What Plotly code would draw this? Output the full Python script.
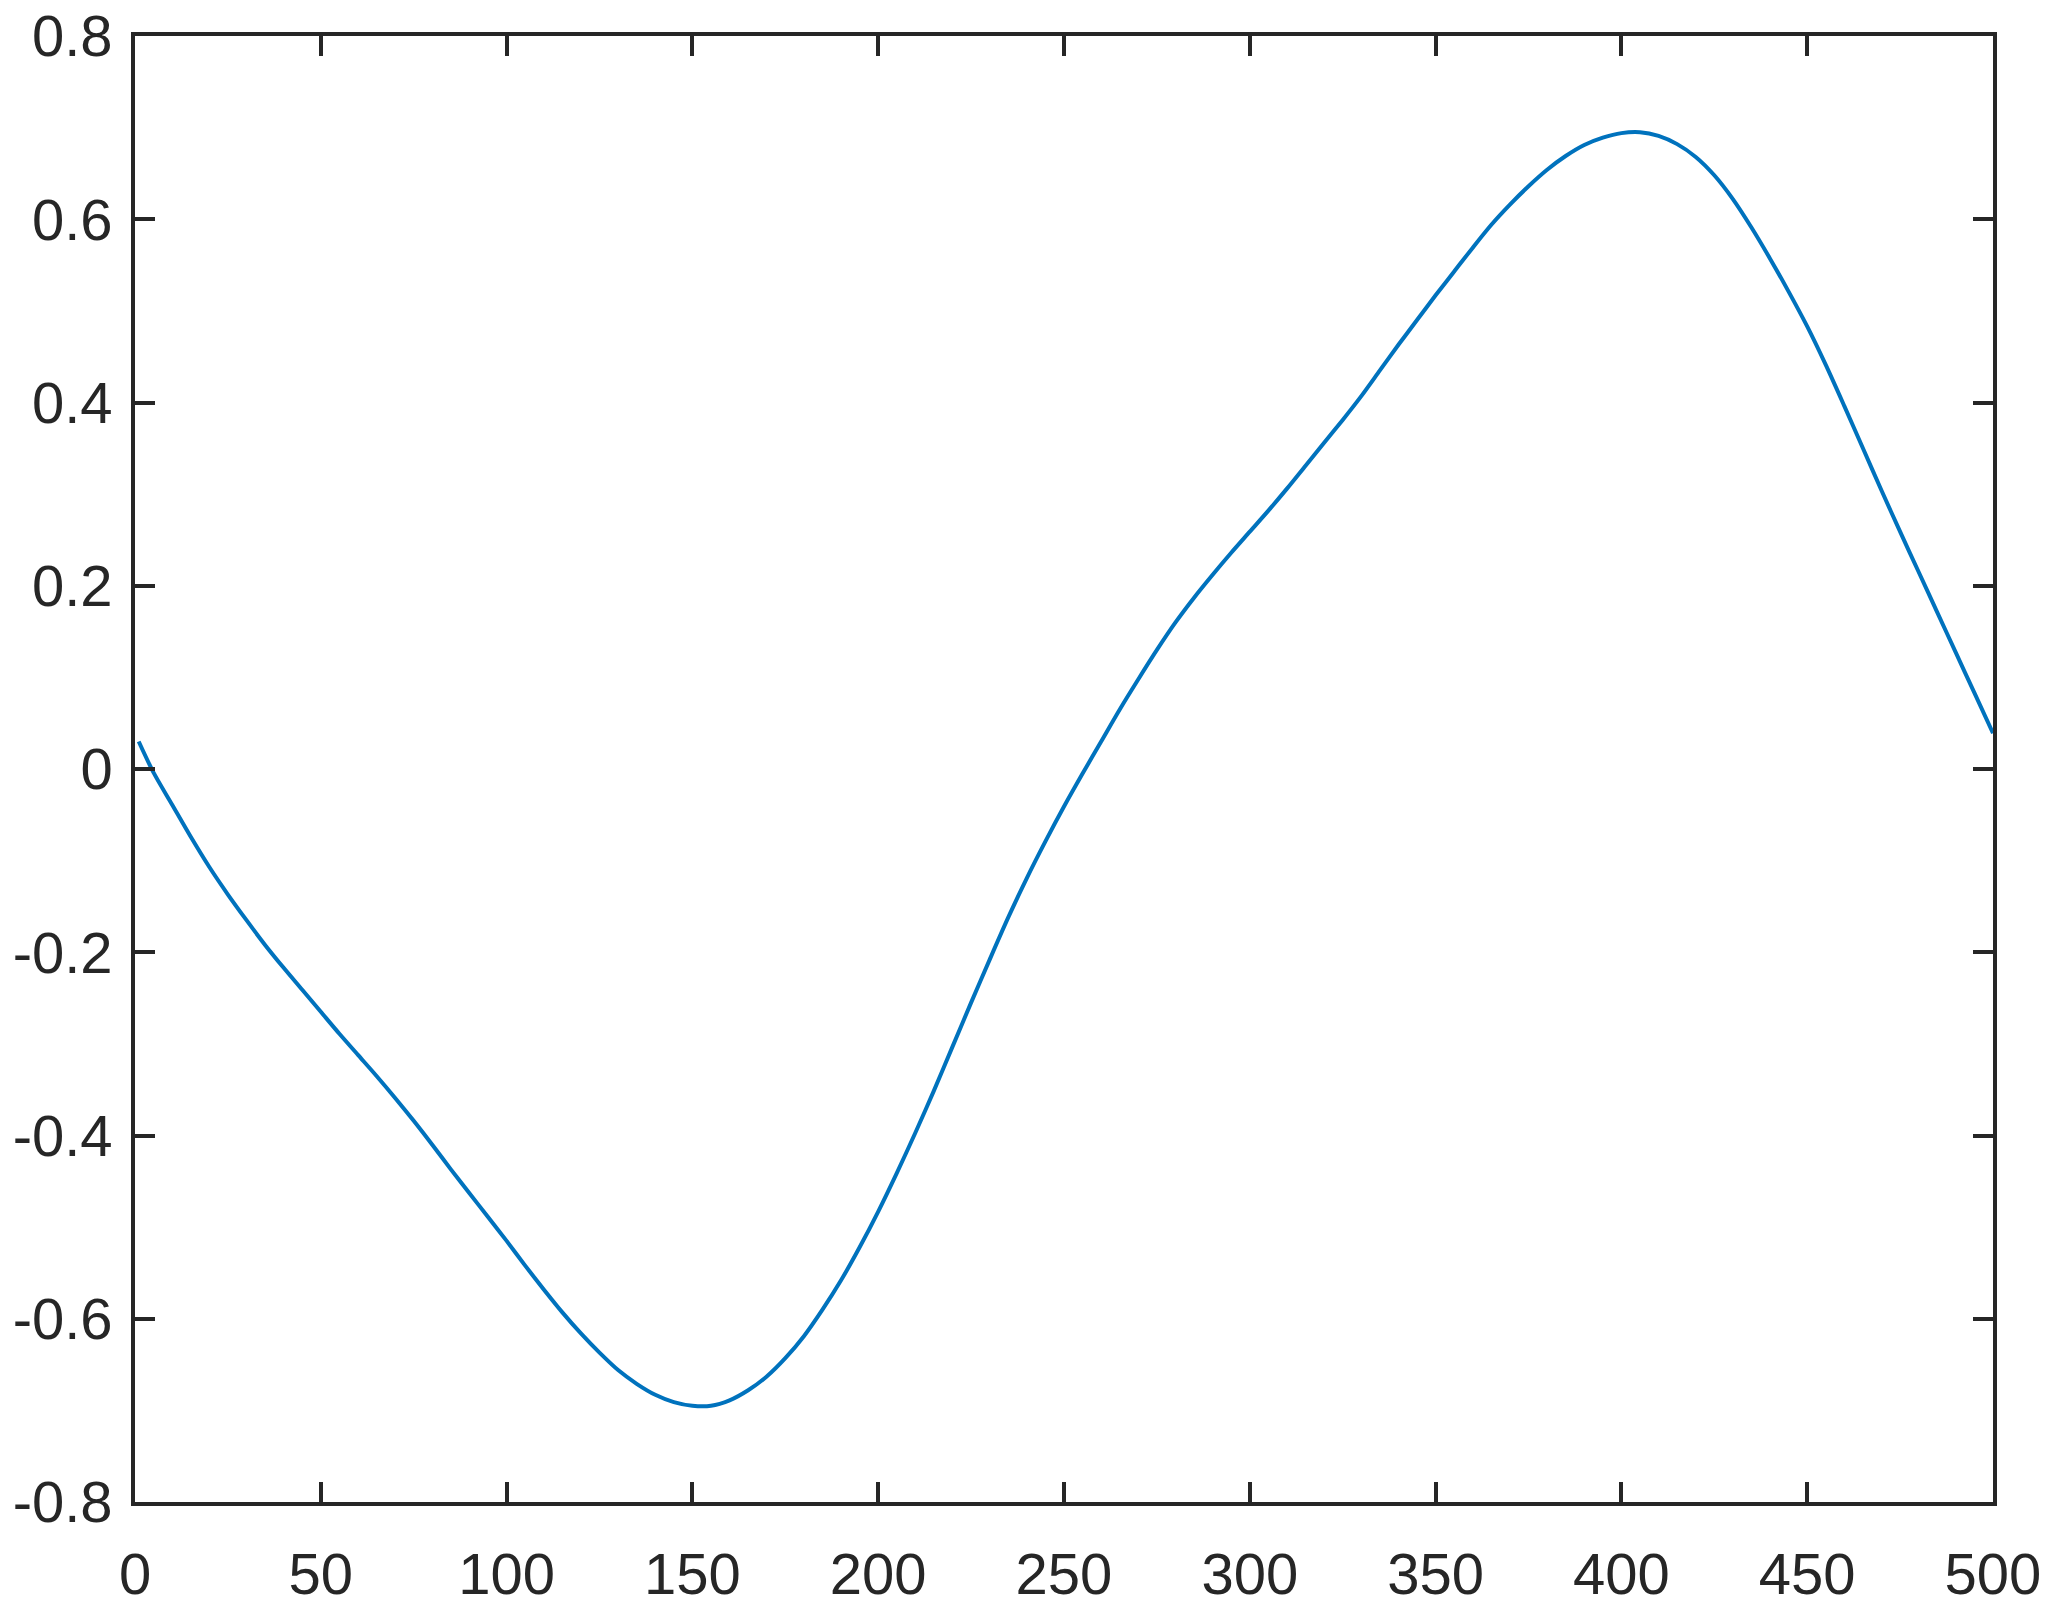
import plotly.graph_objects as go

# curve (sample index vs value)
x_vals = [1, 5, 10, 15, 20, 25, 30, 35, 40, 45, 50, 55, 60, 65, 70, 75, 80, 85, 90, 95,
          100, 105, 110, 115, 120, 125, 130, 135, 140, 145, 150, 155, 160, 165, 170, 175,
          180, 185, 190, 195, 200, 205, 210, 215, 220, 225, 230, 235, 240, 245, 250, 255,
          260, 265, 270, 275, 280, 285, 290, 295, 300, 305, 310, 315, 320, 325, 330, 335,
          340, 345, 350, 355, 360, 365, 370, 375, 380, 385, 390, 395, 400, 405, 410, 415,
          420, 425, 430, 435, 440, 445, 450, 455, 460, 465, 470, 475, 480, 485, 490, 495, 500]
y_vals = [0.030, -0.004, -0.039, -0.074, -0.107, -0.137, -0.165, -0.192, -0.217, -0.241,
          -0.265, -0.289, -0.312, -0.335, -0.359, -0.384, -0.410, -0.437, -0.463, -0.489,
          -0.515, -0.542, -0.568, -0.593, -0.616, -0.637, -0.656, -0.671, -0.683, -0.691,
          -0.695, -0.695, -0.689, -0.678, -0.663, -0.643, -0.619, -0.590, -0.558, -0.522,
          -0.483, -0.441, -0.397, -0.351, -0.303, -0.255, -0.208, -0.162, -0.119, -0.079,
          -0.041, -0.005, 0.030, 0.065, 0.098, 0.130, 0.160, 0.187, 0.212, 0.236,
          0.259, 0.282, 0.306, 0.331, 0.356, 0.381, 0.407, 0.435, 0.463, 0.490,
          0.517, 0.543, 0.569, 0.594, 0.616, 0.636, 0.654, 0.669, 0.681, 0.689,
          0.694, 0.695, 0.691, 0.682, 0.668, 0.648, 0.622, 0.591, 0.557, 0.521,
          0.483, 0.441, 0.396, 0.350, 0.304, 0.259, 0.215, 0.171, 0.127, 0.083, 0.039]

x_ticks = [0, 50, 100, 150, 200, 250, 300, 350, 400, 450, 500]
y_ticks = [-0.8, -0.6, -0.4, -0.2, 0, 0.2, 0.4, 0.6, 0.8]
y_tick_labels = ["-0.8", "-0.6", "-0.4", "-0.2", "0", "0.2", "0.4", "0.6", "0.8"]

axis_color = "#262626"

fig = go.Figure()
fig.add_trace(go.Scatter(x=x_vals, y=y_vals, mode='lines',
                         line=dict(color="#0072BD", width=4, shape='spline', smoothing=0.8),
                         showlegend=False))

axis_style = dict(
    showline=True, linecolor=axis_color, linewidth=3.5, mirror="ticks",
    ticks="inside", ticklen=20, tickwidth=3.5, tickcolor=axis_color,
    showgrid=False, zeroline=False, automargin=False, ticklabeloverflow="allow",
    tickfont=dict(family="Liberation Sans, Arial, sans-serif", size=58, color=axis_color),
)

fig.update_xaxes(range=[0, 500], tickvals=x_ticks, ticklabelstandoff=19, **axis_style)
fig.update_yaxes(range=[-0.8, 0.8], tickvals=y_ticks, ticktext=y_tick_labels,
                 ticklabelstandoff=7, **axis_style)

# the page body adds an 8px offset, so the figure is a bit smaller than the window
fig.update_layout(
    width=2052, height=1603,
    margin=dict(l=127, r=67, t=28, b=109),
    plot_bgcolor="white", paper_bgcolor="white",
)

fig.write_html("out.html")
